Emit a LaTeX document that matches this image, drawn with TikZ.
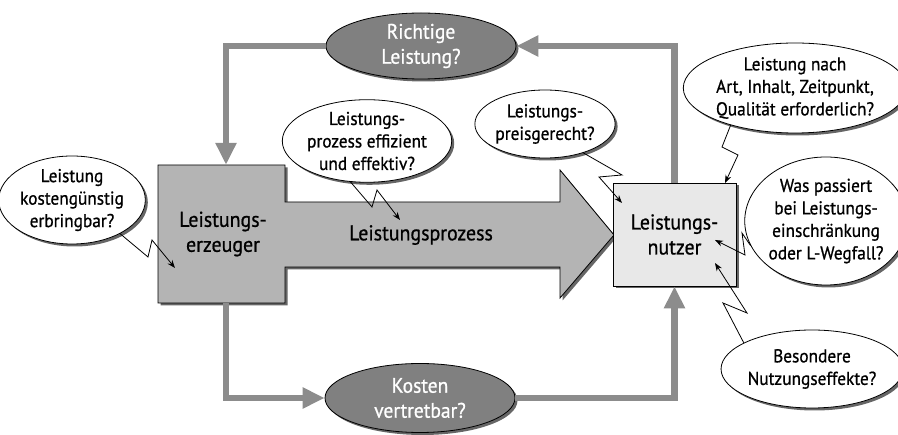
\documentclass[tikz,border=0pt]{standalone}
\usepackage{fontspec}
\setmainfont[FakeStretch=0.93,FakeBold=0.8]{PT Sans}
\usetikzlibrary{shapes.geometric,shadows,arrows.meta}
\definecolor{conn}{HTML}{8C8C8C}
\definecolor{darkell}{HTML}{808080}
\definecolor{erzfill}{HTML}{B4B4B4}
\definecolor{nutzfill}{HTML}{E8E8E8}
\begin{document}
\begin{tikzpicture}[x=1pt,y=-1pt,
  shadowed/.style={drop shadow={shadow xshift=2.5pt,shadow yshift=-2.5pt,fill=black!60,opacity=1}},
  callout/.style={ellipse,draw=black,line width=0.8pt,fill=white,inner sep=0pt,align=center,
    font=\fontsize{18.6}{22.5}\selectfont,shadowed},
  question/.style={callout,fill=darkell,text=white,font=\fontsize{21}{25}\selectfont},
  flow/.style={draw=conn,line width=6.5pt,-{Triangle[length=22pt,width=20pt]}},
  bolt/.style={draw=black,line width=0.8pt,-{Stealth[length=8pt,width=6pt]}},
  maintext/.style={font=\fontsize{21.4}{25}\selectfont,align=center}
]
\useasboundingbox (0,0) rectangle (898,435);

% process shape (block + big arrow)
\path[draw=black,line width=0.8pt,fill=erzfill,shadowed]
  (158,165) -- (285,165) -- (285,202) -- (560,202) -- (560,170) -- (614,235)
  -- (560,298) -- (560,267) -- (285,267) -- (285,303) -- (158,303) -- cycle;
\node[maintext,minimum width=127pt,minimum height=138pt,inner sep=0pt] (erz) at (223,234) {Leistungs-\\erzeuger};
\node[maintext] (prozess) at (421,235) {Leistungsprozess};

\node[draw=black,line width=0.8pt,fill=nutzfill,minimum width=123pt,minimum height=103pt,
  inner sep=0pt,maintext,shadowed] (nutzer) at (674.5,234.5) {Leistungs-\\nutzer};

% question ellipses
\node[question,minimum width=190pt,minimum height=66pt] (richtig) at (421,46) {Richtige\\Leistung?};
\node[question,minimum width=190pt,minimum height=69pt] (kosten) at (420,398) {Kosten\\vertretbar?};

% flows
\draw[flow] (nutzer.north) |- (richtig.east);
\draw[flow] (richtig.west) -| ([xshift=3pt]erz.north);
\draw[flow] ([xshift=3pt]erz.south) |- (kosten.west);
\draw[flow] (kosten.east) -| (nutzer.south);

% callouts
\node[callout,minimum width=124pt,minimum height=88pt] (kg) at (72,200) {Leistung\\kostengünstig\\erbringbar?};
\node[callout,minimum width=160pt,minimum height=82pt] (eff) at (367,141) {Leistungs-\\prozess effizient\\und effektiv?};
\node[callout,minimum width=136pt,minimum height=68pt] (preis) at (545,124) {Leistungs-\\preisgerecht?};
\node[callout,minimum width=196pt,minimum height=90pt] (art) at (795,88) {Leistung nach\\Art, Inhalt, Zeitpunkt,\\Qualität erforderlich?};
\node[callout,minimum width=140pt,minimum height=128pt] (was) at (826,221) {Was passiert\\bei Leistungs-\\einschränkung\\oder L-Wegfall?};
\node[callout,minimum width=160pt,minimum height=78pt] (bes) at (812,369) {Besondere\\Nutzungseffekte?};

% bolt targets
\coordinate (t1) at (175,268);
\coordinate (t2) at (400,220);
\coordinate (t3) at (622,203);
\coordinate (t4) at (725,183);
\coordinate (t5) at (715,240);
\coordinate (t6) at (715,263);

\draw[bolt] (kg.-35) -- (148,257) -- (152,240) -- (t1);
\draw[bolt] (eff.-112) -- (372,207) -- (377,190) -- (t2);
\draw[bolt] (preis.-37) -- (622,175) -- (599,177) -- (t3);
\draw[bolt] (art.-150) -- (722,147) -- (738,155) -- (t4);
\draw[bolt] (was.-162) -- (742,233) -- (745,255) -- (t5);
\draw[bolt] (bes.159) -- (723,303) -- (747,313) -- (t6);
\end{tikzpicture}
\end{document}
